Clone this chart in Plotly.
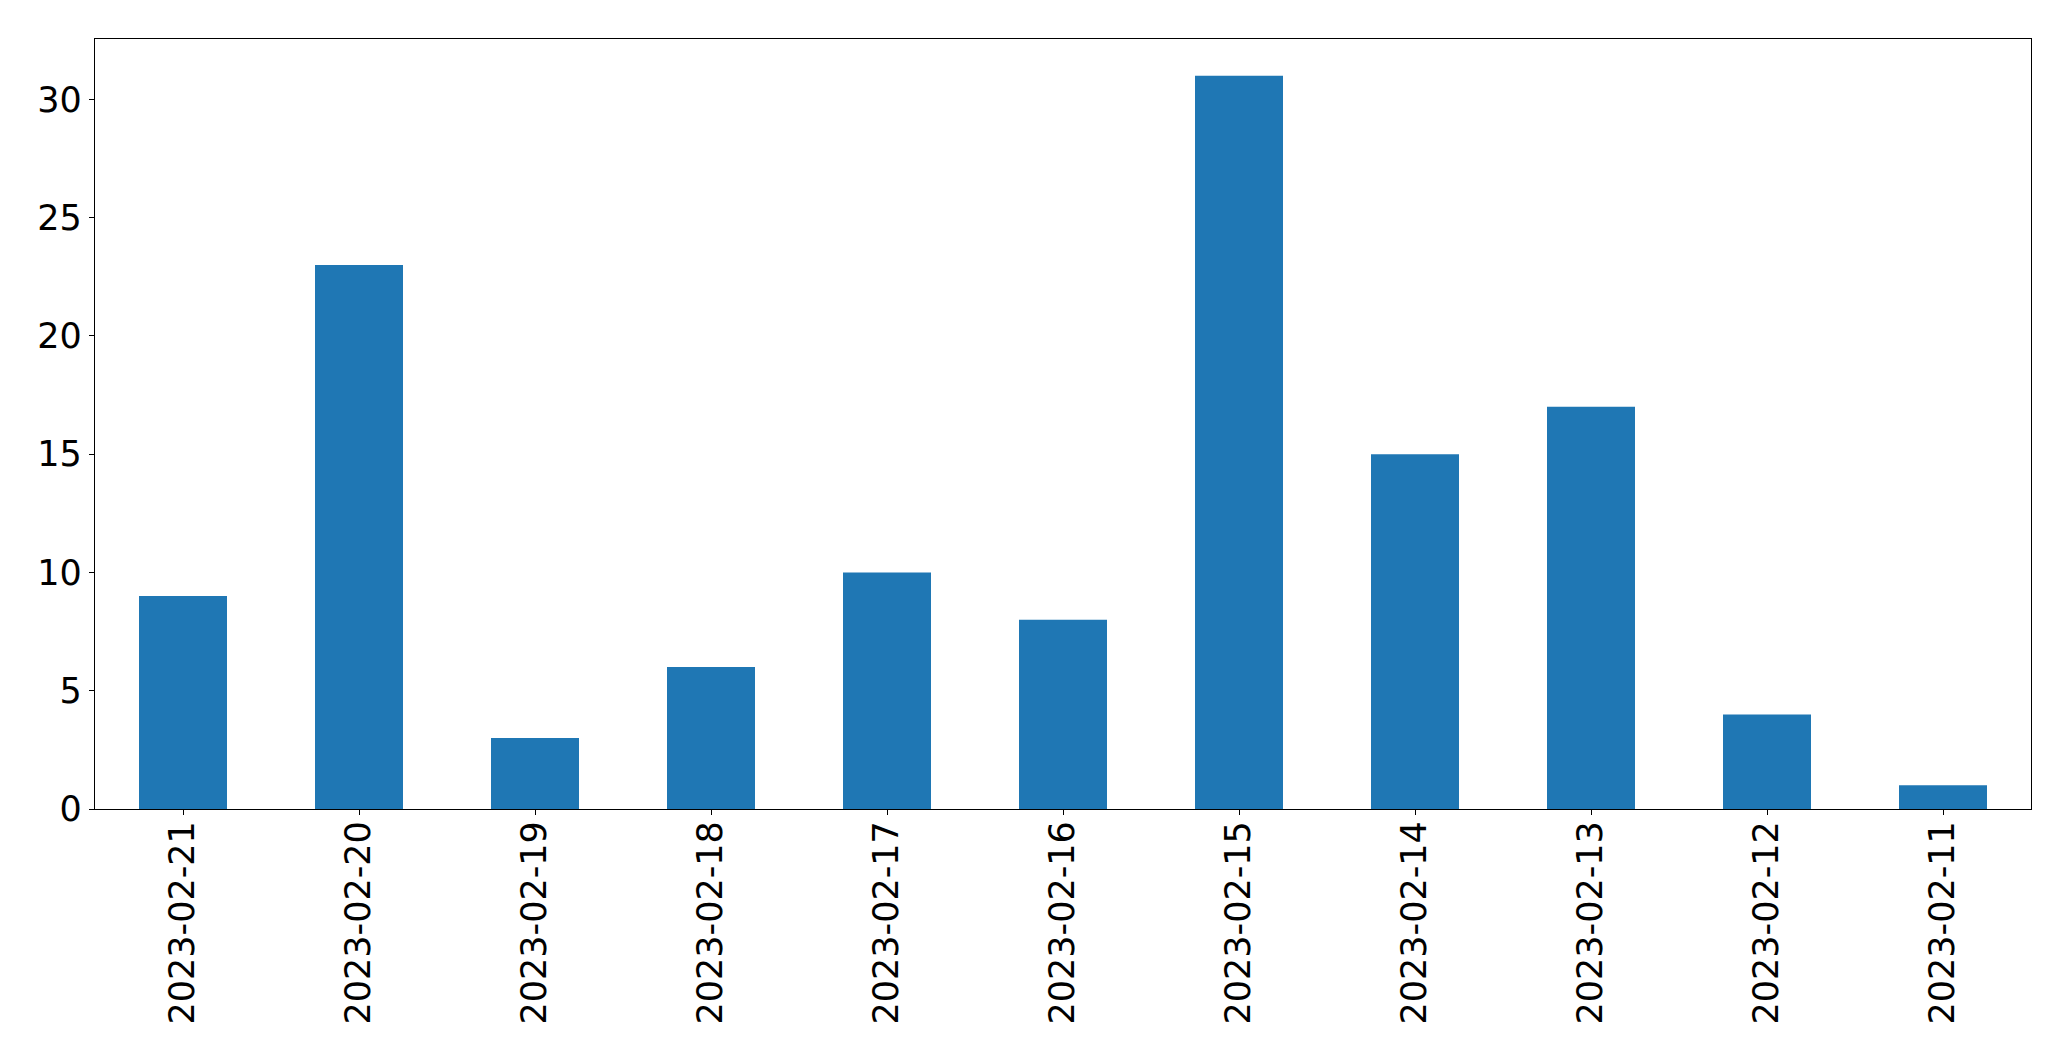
import plotly.graph_objects as go

dates = ["2023-02-21", "2023-02-20", "2023-02-19", "2023-02-18", "2023-02-17",
         "2023-02-16", "2023-02-15", "2023-02-14", "2023-02-13", "2023-02-12", "2023-02-11"]
counts = [9, 23, 3, 6, 10, 8, 31, 15, 17, 4, 1]
y_ticks = [0, 5, 10, 15, 20, 25, 30]

fig = go.Figure(go.Bar(x=dates, y=counts, marker=dict(color="#1f77b4", line=dict(width=0)), width=0.5))

# page body has an 8px default margin, so the figure is offset by 8px
fig.update_layout(
    width=2055, height=1045,
    margin=dict(l=87, r=32, t=31, b=244),
    paper_bgcolor="white", plot_bgcolor="white",
    font=dict(family="DejaVu Sans", size=35, color="black"),
    showlegend=False,
)
fig.update_xaxes(type="category", range=[-0.5, len(dates) - 0.5], tickangle=-90,
                 showline=True, linecolor="black", linewidth=1.3, mirror=True,
                 ticks="outside", ticklen=5, tickwidth=1.3, tickcolor="black",
                 ticklabelstandoff=-8,
                 showgrid=False, zeroline=False)
fig.update_yaxes(range=[0, 32.55], tickvals=y_ticks,
                 showline=True, linecolor="black", linewidth=1.3, mirror=True,
                 ticks="outside", ticklen=5, tickwidth=1.3, tickcolor="black",
                 showgrid=False, zeroline=False)

fig.write_html("out.html")
